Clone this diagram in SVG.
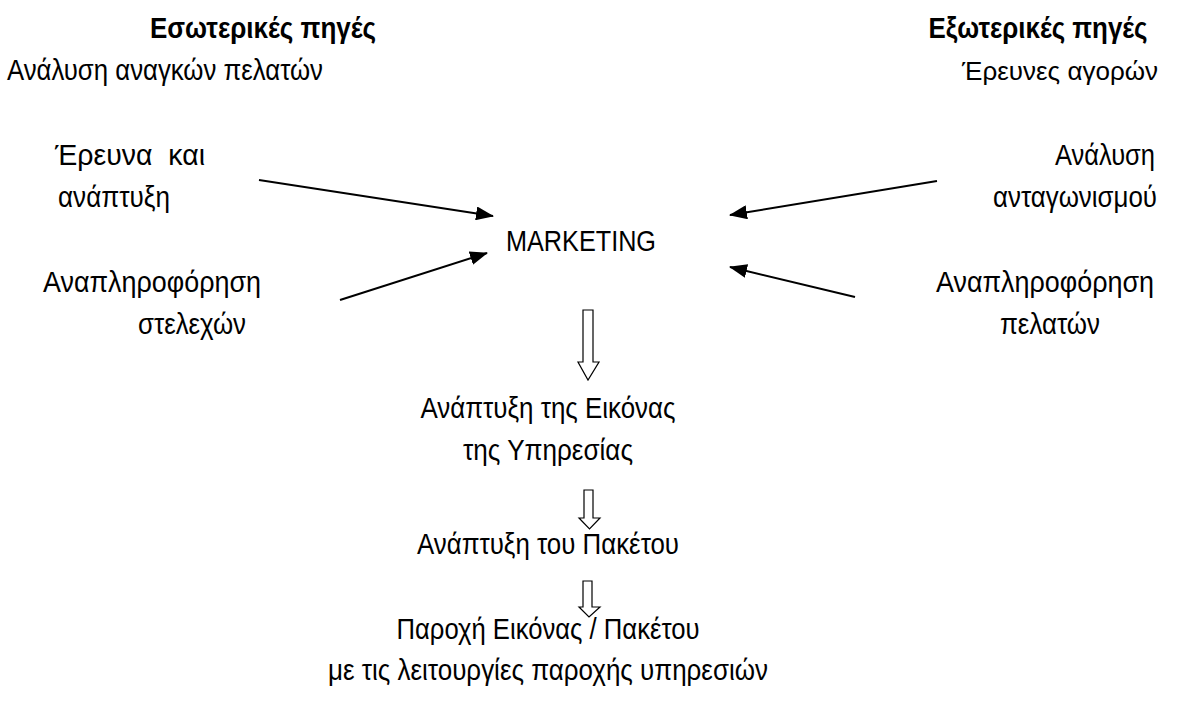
<svg xmlns="http://www.w3.org/2000/svg" width="1179" height="711" viewBox="0 0 1179 711">
<defs>
<style>
text{font-family:"Liberation Sans","Noto Sans",sans-serif;font-size:29px;fill:#000;white-space:pre}
.b{font-weight:bold}
.c{text-anchor:middle}
.s{font-size:26px}
.ln{stroke:#000;stroke-width:2;fill:none}
.blk{fill:#fff;stroke:#000;stroke-width:1.2;stroke-linejoin:miter}
</style>
<marker id="ah" markerUnits="userSpaceOnUse" markerWidth="18" markerHeight="14" refX="17" refY="7" orient="auto" viewBox="0 0 18 14">
<path d="M0,0 L18,7 L0,14 Z" fill="#000"/>
</marker>
</defs>
<rect width="1179" height="711" fill="#fff"/>
<g id="internal">
<text class="b c" x="263" y="38" textLength="226" lengthAdjust="spacingAndGlyphs">Εσωτερικές πηγές</text>
<text class="c" x="165" y="80" textLength="316" lengthAdjust="spacingAndGlyphs">Ανάλυση αναγκών πελατών</text>
</g>
<g id="external">
<text class="b c" x="1038" y="38" textLength="219" lengthAdjust="spacingAndGlyphs">Εξωτερικές πηγές</text>
<text class="c s" x="1060" y="80" textLength="196" lengthAdjust="spacingAndGlyphs">Έρευνες αγορών</text>
</g>
<g id="rd">
<text x="55" y="165" textLength="150" lengthAdjust="spacingAndGlyphs">Έρευνα  και</text>
<text x="58" y="207" textLength="112" lengthAdjust="spacingAndGlyphs">ανάπτυξη</text>
</g>
<g id="staff">
<text class="c" x="152" y="292" textLength="218" lengthAdjust="spacingAndGlyphs">Αναπληροφόρηση</text>
<text class="c" x="192" y="334" textLength="108" lengthAdjust="spacingAndGlyphs">στελεχών</text>
</g>
<g id="competition">
<text class="c" x="1105" y="165" textLength="100" lengthAdjust="spacingAndGlyphs">Ανάλυση</text>
<text class="c" x="1075" y="207" textLength="164" lengthAdjust="spacingAndGlyphs">ανταγωνισμού</text>
</g>
<g id="customers">
<text class="c" x="1045" y="292" textLength="218" lengthAdjust="spacingAndGlyphs">Αναπληροφόρηση</text>
<text class="c" x="1050" y="334" textLength="100" lengthAdjust="spacingAndGlyphs">πελατών</text>
</g>
<g id="marketing">
<text class="c" x="581" y="251" textLength="150" lengthAdjust="spacingAndGlyphs">MARKETING</text>
</g>
<g id="image">
<text class="c" x="548" y="418" textLength="255" lengthAdjust="spacingAndGlyphs">Ανάπτυξη της Εικόνας</text>
<text class="c" x="548" y="460" textLength="170" lengthAdjust="spacingAndGlyphs">της Υπηρεσίας</text>
</g>
<g id="package">
<text class="c" x="548" y="554" textLength="262" lengthAdjust="spacingAndGlyphs">Ανάπτυξη του Πακέτου</text>
</g>
<g id="delivery">
<text class="c" x="548" y="639" textLength="303" lengthAdjust="spacingAndGlyphs">Παροχή Εικόνας / Πακέτου</text>
<text class="c" x="548" y="680" textLength="440" lengthAdjust="spacingAndGlyphs">με τις λειτουργίες παροχής υπηρεσιών</text>
</g>
<g id="connectors">
<line class="ln" x1="259" y1="180" x2="493" y2="216" marker-end="url(#ah)"/>
<line class="ln" x1="340" y1="300" x2="487" y2="253" marker-end="url(#ah)"/>
<line class="ln" x1="937" y1="181" x2="730" y2="215" marker-end="url(#ah)"/>
<line class="ln" x1="855" y1="297" x2="730" y2="267" marker-end="url(#ah)"/>
<path class="blk" d="M583,310 H593 V362 H599 L588,380 L578,362 H583 Z"/>
<path class="blk" d="M584,490 H593 V518 H600 L589.5,529 L579,518 H584 Z"/>
<path class="blk" d="M583,581 H592 V607 H600 L589,617 L579,607 H583 Z"/>
</g>
</svg>
